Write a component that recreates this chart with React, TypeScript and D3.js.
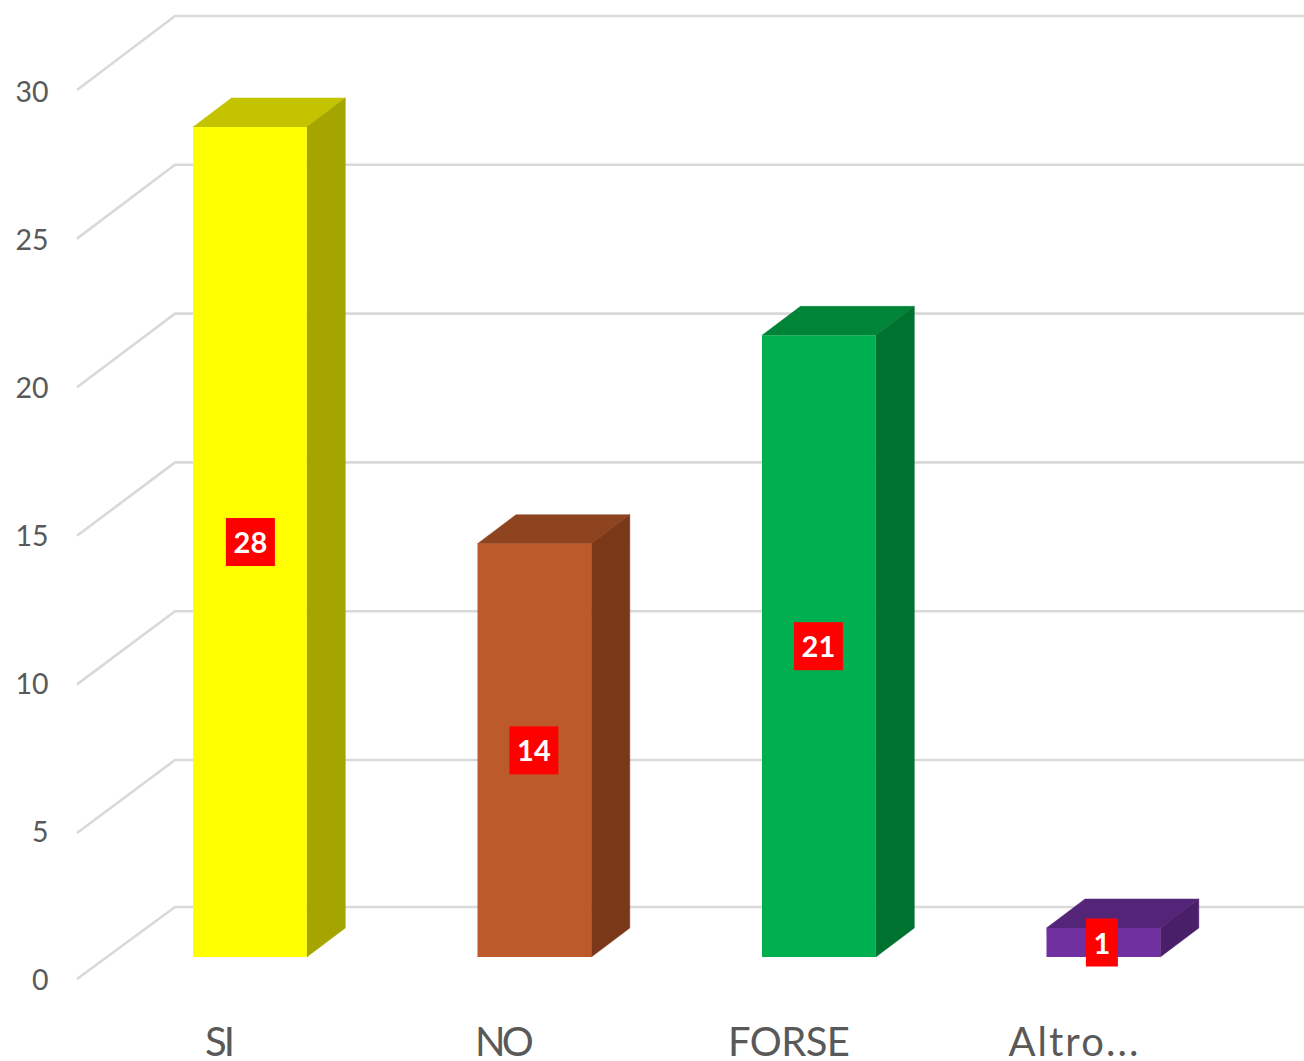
import React from "react";
import * as d3 from "d3";

const categories = ["SI", "NO", "FORSE", "Altro..."];
const values = [28, 14, 21, 1];
const frontColors = ["#FFFF00", "#BD5A2B", "#00B050", "#7030A0"];
const topColors = ["#C3C300", "#8F4420", "#008538", "#542479"];
const sideColors = ["#A5A500", "#7B3819", "#00722F", "#481F68"];
const ticks = [0, 5, 10, 15, 20, 25, 30];

// Rendering tweaks, kept apart from the data
const categoryWidths = [30, 59, 122, 130];
const labelOffsets = [0.5, -0.5, -0.5, -1.5];

const W = 1304, H = 1061;
const depthX = 38.5, depthY = 29;
const x = d3.scaleBand<string>().domain(categories).range([107.65, 1245.65]).paddingInner(0.6).paddingOuter(0.3);
const yBar = d3.scaleLinear().domain([0, 1, 14, 30]).range([957, 928, 543.7, 67.5]);
const yBack = d3.scaleLinear().domain([0, 5, 30]).range([907, 760, 16]);
const yTick = d3.scaleLinear().domain([0, 5, 30]).range([979, 833, 90]);
const yTickText = d3.scaleLinear().domain([0, 30]).range([990, 102]);
const FONT = "Lato, 'Open Sans', sans-serif";

export default function App() {
  const bw = x.bandwidth();
  return (
    <svg width={W} height={H} style={{ position: "absolute", left: 0, top: 0, background: "#fff" }}>
      {ticks.map((t) => (
        <g key={t}>
          <path
            d={`M77,${yTick(t)}L175,${yBack(t)}L${W},${yBack(t)}`}
            fill="none"
            stroke="#D9D9D9"
            strokeWidth={2.6}
          />
          <text x={48.5} y={yTickText(t)} textAnchor="end" fontFamily={FONT} fontSize={28.5} fill="#595959">
            {t}
          </text>
        </g>
      ))}
      {categories.map((c, i) => {
        const x0 = x(c)!;
        const x1 = x0 + bw;
        const y0 = yBar(0);
        const y1 = yBar(values[i]);
        const cx = x0 + bw / 2;
        const label = String(values[i]);
        const lw = label.length > 1 ? 49 : 32;
        const cy = (y0 + y1) / 2;
        const lx = cx + labelOffsets[i];
        return (
          <g key={c}>
            <path d={`M${x0},${y1}L${x0 + depthX},${y1 - depthY}L${x1 + depthX},${y1 - depthY}L${x1},${y1}Z`} fill={topColors[i]} stroke={topColors[i]} strokeWidth={0.5} />
            <path d={`M${x1},${y1}L${x1 + depthX},${y1 - depthY}L${x1 + depthX},${y0 - depthY}L${x1},${y0}Z`} fill={sideColors[i]} stroke={sideColors[i]} strokeWidth={0.5} />
            <rect x={x0} y={y1} width={bw} height={y0 - y1} fill={frontColors[i]} />
            <rect x={lx - lw / 2} y={cy - 24} width={lw} height={48} fill="#FF0000" />
            <text x={lx} y={cy + 11} textAnchor="middle" fontFamily={FONT} fontWeight={700} fontSize={29} fill="#fff">
              {label}
            </text>
            <text
              x={cx - 30}
              y={1056}
              textAnchor="middle"
              fontFamily={FONT}
              fontSize={40}
              fill="#595959"
              textLength={categoryWidths[i]}
              lengthAdjust="spacing"
            >
              {c}
            </text>
          </g>
        );
      })}
    </svg>
  );
}
